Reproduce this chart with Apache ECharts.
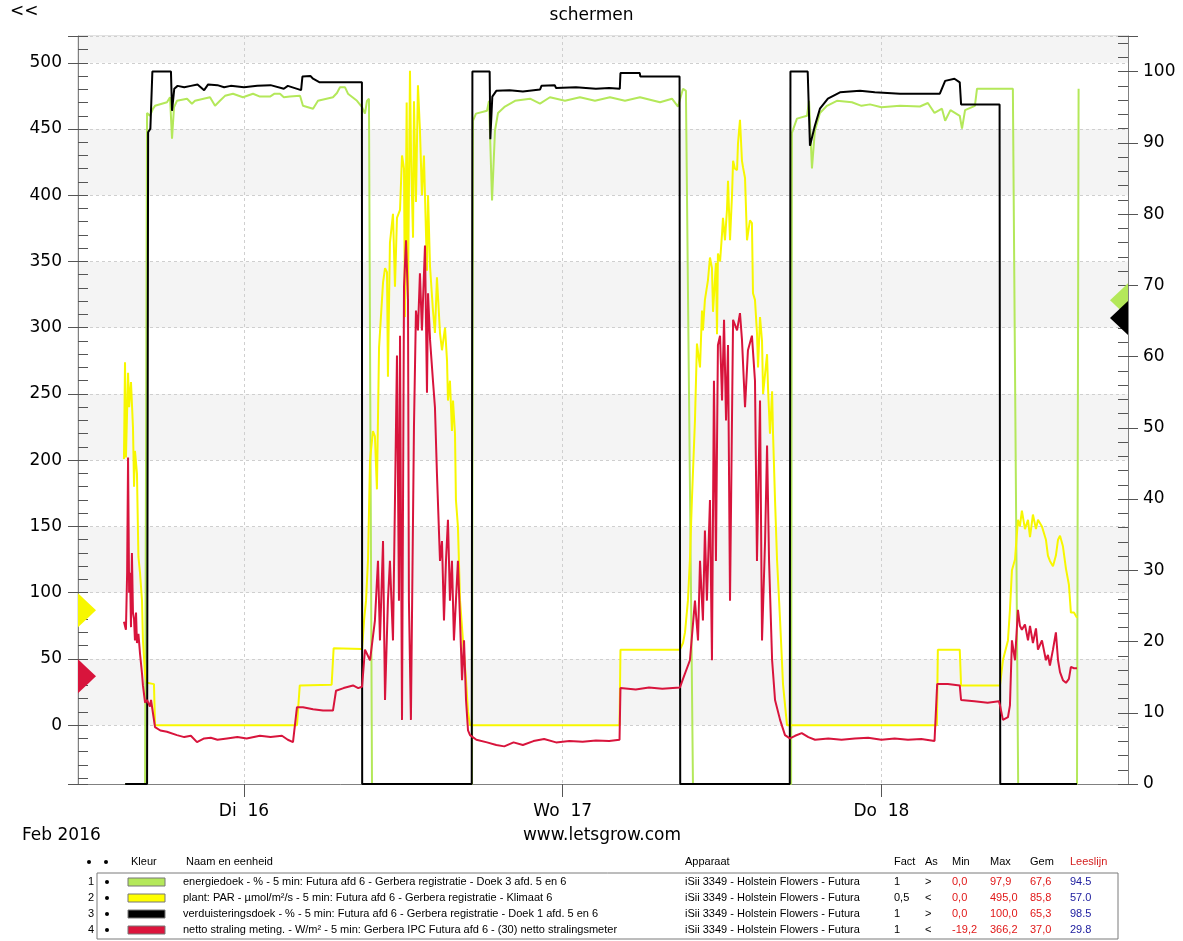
<!DOCTYPE html>
<html>
<head>
<meta charset="utf-8">
<title>schermen</title>
<script src="https://cdn.jsdelivr.net/npm/echarts@6/dist/echarts.min.js"></script>
<style>
  html, body { margin: 0; padding: 0; background: #fff; }
  #chart { width: 1183px; height: 941px; }
</style>
</head>
<body>
<div id="chart"></div>
<script>
// tijd in uren vanaf ma 15 feb 2016 00:00
var xMin = 11.5;
var xMax = 90.57;
var dayTicks = [24, 48, 72];
var dayLabels = ['Di  16', 'Wo  17', 'Do  18'];

var leftMin = -44.4, leftMax = 520.2;   // W/m2 - umol
var rightMax = 105;                     // %

// energiedoek - % (rechter as)
var energiedoek = [
  [15.05,0],[16.55,0],[16.70,94.2],[16.92,93.8],[17.15,94.8],[17.30,95.2],[18.20,95.7],[18.43,96.4],[18.58,90.6],
  [18.73,95.0],[18.95,95.9],[19.71,96.2],[20.08,95.5],[20.31,95.9],[21.44,96.4],[21.82,95.2],[22.19,95.9],[22.57,96.6],
  [23.17,96.9],[23.92,96.4],[24.68,96.9],[25.20,96.5],[25.96,96.5],[26.30,96.9],[26.71,96.9],[27.00,96.4],[27.46,96.5],
  [28.22,96.6],[28.44,95.2],[29.20,94.8],[29.57,95.9],[30.70,96.4],[31.00,97.0],[31.23,97.8],[31.61,97.8],[31.83,96.9],
  [32.51,95.9],[32.89,95.0],[33.11,94.1],[33.26,95.9],[33.41,96.2],[33.64,0],
  [41.17,0],[41.24,93.1],[41.47,94.1],[42.30,94.5],[42.45,95.9],[42.68,81.9],[42.90,91.7],[43.13,94.2],[43.65,95.1],
  [44.41,95.9],[45.54,96.2],[46.29,95.5],[47.04,96.4],[48.17,95.9],[49.30,96.4],[50.43,95.9],[51.56,96.4],[52.69,95.9],
  [53.82,96.4],[55.33,95.7],[56.23,96.2],[56.68,95.1],[57.06,97.6],[57.28,97.3],[57.81,0],
  [65.20,0],[65.26,91.4],[65.64,93.4],[66.40,93.8],[66.55,95.9],[66.77,86.4],[66.99,91.7],[67.37,94.2],[67.90,95.2],
  [68.65,95.9],[69.78,95.7],[70.50,95.2],[71.14,95.4],[72.00,95.0],[73.40,95.2],[74.90,95.1],[75.50,95.6],[76.00,94.2],
  [76.56,94.8],[76.80,93.1],[77.20,94.6],[77.90,93.8],[78.07,92.0],[78.30,94.6],[79.04,95.2],[79.20,97.6],[81.90,97.6],
  [82.30,0],[86.73,0],[86.85,97.6]
];

// plant: PAR - umol/m2/s (linker as)
var par = [
  [14.96,201],[15.04,274],[15.11,202],[15.27,266],[15.35,240],[15.49,259],[15.64,225],[15.72,180],[15.79,207],[15.94,190],
  [16.05,127],[16.17,115],[16.32,94],[16.39,64],[16.55,39],[16.70,32],[17.22,31],[17.30,0],[27.99,0],[28.20,30],
  [30.60,30.5],[30.75,58],[32.89,57.5],
  [33.05,80],[33.19,94],[33.34,125],[33.49,200],[33.71,222],[33.86,218],[34.01,178],[34.17,285],[34.47,334],[34.62,345],
  [34.77,342],[34.84,263],[34.99,364],[35.22,386],[35.37,331],[35.52,383],[35.75,389],[35.90,430],[36.05,420],[36.12,308],
  [36.25,470],[36.35,323],[36.50,494],[36.58,430],[36.65,400],[36.73,368],[36.80,471],[36.95,395],[37.10,483],[37.25,449],
  [37.40,400],[37.55,430],[37.78,343],[37.86,400],[38.01,346],[38.23,313],[38.38,296],[38.53,338],[38.76,296],[38.91,283],
  [39.14,300],[39.29,275],[39.36,245],[39.51,260],[39.66,222],[39.74,245],[39.89,220],[39.96,170],[40.11,150],[40.27,94],
  [40.49,64],[40.72,34],[40.87,10],[41.02,0],
  [52.28,0],[52.35,57],[56.83,57],
  [57.06,62],[57.21,70],[57.43,94],[57.58,125],[57.73,170],[57.96,230],[58.11,288],[58.34,270],[58.49,313],[58.56,298],
  [58.71,321],[58.94,336],[59.09,353],[59.24,345],[59.32,312],[59.54,349],[59.62,295],[59.69,356],[59.85,350],[60.00,371],
  [60.07,383],[60.22,366],[60.37,389],[60.45,411],[60.60,366],[60.75,400],[60.83,426],[60.97,420],[61.13,419],[61.20,439],
  [61.35,457],[61.50,426],[61.58,421],[61.73,413],[61.88,366],[61.95,371],[62.10,381],[62.25,379],[62.33,326],[62.48,321],
  [62.63,296],[62.71,270],[62.86,308],[63.01,290],[63.09,250],[63.39,280],[63.46,255],[63.61,220],[63.77,252],[63.84,220],
  [63.99,170],[64.14,125],[64.37,79],[64.59,31],[64.89,0],
  [76.18,0],[76.25,57],[77.90,57],[78.00,30],[80.93,30],
  [81.15,49],[81.53,64],[81.68,87],[81.83,117],[82.06,125],[82.28,155],[82.43,150],[82.58,162],[82.81,148],[83.04,155],
  [83.19,142],[83.41,159],[83.64,148],[83.79,155],[84.09,150],[84.39,140],[84.54,128],[84.69,124],[84.92,120],[85.14,128],
  [85.30,140],[85.45,143],[85.67,135],[85.90,118],[86.12,106],[86.27,85],[86.50,85],[86.73,81]
];

// verduisteringsdoek - % (rechter as)
var verduistering = [
  [15.05,0],[16.70,0],[16.78,91.5],[16.95,92.0],[17.10,100],[18.50,100],[18.58,94.5],[18.75,97.6],[19.00,98.0],[19.50,97.8],
  [20.00,98.0],[20.50,98.2],[21.00,97.4],[21.30,98.2],[22.00,98.1],[22.50,97.8],[23.00,98.0],[24.00,97.8],[25.00,98.0],
  [26.00,98.1],[27.00,97.6],[27.30,98.0],[28.30,97.4],[28.40,99.3],[29.00,99.4],[29.20,99.0],[29.70,98.5],[32.88,98.5],[32.90,0],
  [41.15,0],[41.20,100],[42.50,100],[42.55,90.5],[42.70,96.5],[43.00,97.3],[44.00,97.4],[45.00,97.2],[46.30,97.5],[46.40,98.0],
  [47.40,98.1],[47.50,97.7],[49.00,97.8],[50.50,97.6],[51.50,97.7],[52.30,97.6],[52.35,99.8],[53.80,99.8],[53.85,99.3],
  [56.80,99.3],[56.85,0],
  [65.10,0],[65.15,100],[66.45,100],[66.62,89.6],[66.99,92.4],[67.37,94.8],[67.97,96.2],[68.88,97.1],[70.39,97.3],[71.50,97.1],
  [73.40,96.9],[76.40,96.9],[76.80,98.7],[77.50,99.0],[77.90,98.5],[78.00,95.4],[80.90,95.4],[80.95,0],[86.73,0]
];

// netto straling meting - W/m2 (linker as)
var netto = [
  [14.96,78],[15.11,72],[15.20,115],[15.27,202],[15.35,100],[15.42,115],[15.49,74],[15.56,130],[15.64,85],[15.72,80],
  [15.79,64],[15.87,85],[15.94,62],[16.05,69],[16.17,54],[16.32,39],[16.39,30],[16.55,17],[16.70,19],[16.92,14],[17.00,19],
  [17.30,-1.5],[17.70,-4],[18.20,-5],[18.95,-7.5],[19.50,-9],[20.00,-8],[20.46,-12.8],[21.00,-10],[21.50,-9.5],[22.00,-11],
  [22.72,-10],[23.50,-9],[24.20,-10],[25.20,-8],[26.00,-9],[26.86,-8],[27.30,-11],[27.69,-12.8],[27.99,13.6],[28.44,13.6],
  [29.20,12],[29.95,11],[30.70,11],[30.93,26],[31.50,28],[32.21,30],[32.60,28],[32.89,29],
  [33.11,57],[33.49,49],[33.86,79],[34.09,124],[34.24,64],[34.47,139],[34.62,19],[34.84,94],[34.99,124],[35.22,64],
  [35.37,170],[35.52,279],[35.67,94],[35.75,294],[35.90,4],[36.05,331],[36.20,366],[36.35,321],[36.42,94],[36.57,4],
  [36.80,225],[36.95,313],[37.10,298],[37.25,341],[37.40,298],[37.63,362],[37.78,251],[37.86,326],[38.01,291],[38.23,260],
  [38.38,240],[38.53,190],[38.76,124],[38.91,139],[39.06,79],[39.21,124],[39.36,155],[39.51,94],[39.66,124],[39.81,64],
  [39.96,94],[40.11,124],[40.27,79],[40.42,34],[40.57,64],[40.72,19],[40.87,-4],[41.02,-7.5],
  [41.50,-11],[42.30,-13],[43.00,-15],[43.60,-16],[44.30,-13],[45.00,-15],[45.80,-12],[46.60,-10.5],[47.50,-13],[48.50,-12],
  [49.50,-12.5],[50.50,-11.5],[51.50,-12],[52.28,-11],[52.35,28],[53.50,27],[54.50,28.5],[55.50,27.5],[56.83,28.5],
  [57.06,35],[57.58,49],[57.96,94],[58.19,64],[58.34,124],[58.56,79],[58.71,147],[58.86,94],[59.09,170],[59.24,49],
  [59.39,260],[59.54,124],[59.69,287],[59.85,294],[60.00,245],[60.15,306],[60.30,230],[60.45,287],[60.60,94],[60.83,306],
  [61.13,298],[61.35,311],[61.50,291],[61.73,240],[61.95,283],[62.25,294],[62.48,260],[62.63,124],[62.86,245],[63.01,64],
  [63.24,139],[63.39,211],[63.54,124],[63.77,49],[63.99,19],[64.37,4],[64.74,-7.5],[65.11,-10],
  [65.50,-8],[66.00,-6],[66.50,-9],[67.00,-11],[68.00,-10],[69.00,-11],[70.00,-10],[71.00,-9.5],[72.00,-11],[73.00,-10],
  [74.00,-11],[75.00,-10.5],[76.00,-12],[76.20,31],[77.00,31],[77.90,30],[78.00,19],[79.00,18],[80.00,17],[80.85,18],
  [80.93,15],[81.15,4],[81.53,6],[81.68,15],[81.83,64],[82.06,49],[82.28,87],[82.43,75],[82.58,72],[82.81,76],[83.04,64],
  [83.19,75],[83.41,62],[83.64,73],[83.79,57],[84.09,64],[84.39,49],[84.54,53],[84.69,45],[84.92,57],[85.14,70],[85.30,49],
  [85.45,40],[85.67,34],[85.90,32],[86.12,35],[86.27,44],[86.50,43],[86.73,43]
];

// leeslijn-markeringen op de assen
var markerPar = 86.8, markerNetto = 37;
var markerEnergie = 67.9, markerVerduister = 65.4;

// tabel onder de grafiek
var rowNames = [
  'energiedoek - % - 5 min: Futura afd 6 - Gerbera registratie - Doek 3 afd. 5 en 6',
  'plant: PAR - \u00b5mol/m\u00b2/s - 5 min: Futura afd 6 - Gerbera registratie - Klimaat 6',
  'verduisteringsdoek - % - 5 min: Futura afd 6 - Gerbera registratie - Doek 1 afd. 5 en 6',
  'netto straling meting. - W/m\u00b2 - 5 min: Gerbera IPC Futura afd 6 - (30) netto stralingsmeter'
];
var rowColors = ['#b4e85a', '#ffff00', '#000000', '#dc143c'];
var rowApparaat = 'iSii 3349 - Holstein Flowers - Futura';
var rowFact = ['1', '0,5', '1', '1'];
var rowAs = ['>', '<', '>', '<'];
var rowMin = ['0,0', '0,0', '0,0', '-19,2'];
var rowMax = ['97,9', '495,0', '100,0', '366,2'];
var rowGem = ['67,6', '85,8', '65,3', '37,0'];
var rowLees = ['94.5', '57.0', '98.5', '29.8'];

var chart = echarts.init(document.getElementById('chart'));

var bigFont = '"DejaVu Sans", sans-serif';
var smallFont = '11px "Liberation Sans", Arial, sans-serif';
var gridLine = { show: true, lineStyle: { color: '#cfcfcf', type: [3, 3], width: 1 } };

// tabel als graphic tekst
var table = [];
function txt(x, y, s, color, align, font) {
  table.push({ type: 'text', x: x, y: y, silent: true,
    style: { text: s, font: font || smallFont, fill: color || '#000', align: align || 'left', verticalAlign: 'middle' } });
}
function dot(x, y) {
  table.push({ type: 'circle', shape: { cx: x, cy: y, r: 2 }, silent: true, style: { fill: '#000' } });
}
var headY = 862;
dot(89, headY); dot(106, headY);
txt(131, headY, 'Kleur'); txt(186, headY, 'Naam en eenheid'); txt(685, headY, 'Apparaat');
txt(894, headY, 'Fact'); txt(925, headY, 'As'); txt(952, headY, 'Min'); txt(990, headY, 'Max');
txt(1030, headY, 'Gem'); txt(1070, headY, 'Leeslijn', '#d42020');
table.push({ type: 'rect', shape: { x: 97, y: 873, width: 1021, height: 66 }, silent: true,
  style: { fill: 'none', stroke: '#7a7a7a', lineWidth: 1 } });
for (var i = 0; i < rowNames.length; i++) {
  var ry = 882 + i * 16;
  txt(94, ry, String(i + 1), '#000', 'right');
  dot(107, ry);
  table.push({ type: 'rect', shape: { x: 128, y: ry - 4, width: 37, height: 8 }, silent: true,
    style: { fill: rowColors[i], stroke: '#777', lineWidth: 1 } });
  txt(183, ry, rowNames[i]);
  txt(685, ry, rowApparaat);
  txt(894, ry, rowFact[i]);
  txt(925, ry, rowAs[i]);
  txt(952, ry, rowMin[i], '#e01818');
  txt(990, ry, rowMax[i], '#e01818');
  txt(1030, ry, rowGem[i], '#e01818');
  txt(1070, ry, rowLees[i], '#2020a0');
}
txt(10, 12, '<<', '#000', 'left', '17px ' + bigFont);
txt(22, 836, 'Feb 2016', '#000', 'left', '17px ' + bigFont);
txt(602, 836, 'www.letsgrow.com', '#000', 'center', '17px ' + bigFont);

function lineSeries(name, data, color, axis, marker, side) {
  var s = {
    name: name, type: 'line', data: data, yAxisIndex: axis,
    showSymbol: false, symbol: 'none', smooth: false,
    lineStyle: { color: color, width: 2 }, itemStyle: { color: color },
    animation: false
  };
  if (marker != null) {
    s.markPoint = {
      silent: true, animation: false,
      symbol: side === 'left' ? 'path://M0,0L1,1L0,2Z' : 'path://M1,0L0,1L1,2Z',
      symbolSize: [18, 34],
      symbolOffset: [side === 'left' ? 9 : -9, 0],
      itemStyle: { color: color },
      label: { show: false },
      data: [{ coord: [side === 'left' ? xMin : xMax, marker] }]
    };
  }
  return s;
}

var option = {
  animation: false,
  backgroundColor: '#ffffff',
  title: {
    text: 'schermen', left: 'center', top: 2,
    textStyle: { fontFamily: bigFont, fontSize: 17, fontWeight: 'normal', color: '#000' }
  },
  grid: { left: 78, right: 55, top: 36, bottom: 157, show: true, borderColor: '#c4c4c4', borderWidth: 1 },
  xAxis: {
    type: 'value', min: xMin, max: xMax,
    axisLine: { show: true, onZero: false, lineStyle: { color: '#808080' } },
    axisTick: { show: true, customValues: dayTicks, length: 13, lineStyle: { color: '#555' } },
    axisLabel: {
      customValues: dayTicks, margin: 19, fontFamily: bigFont, fontSize: 17, color: '#000',
      formatter: function (v) { var k = dayTicks.indexOf(v); return k >= 0 ? dayLabels[k] : ''; }
    },
    splitLine: gridLine
  },
  yAxis: [
    {
      type: 'value', position: 'left', min: leftMin, max: leftMax, splitNumber: 11,
      axisLine: { show: true, lineStyle: { color: '#808080' } },
      axisTick: { show: true, length: 10, lineStyle: { color: '#555' } },
      axisLabel: {
        margin: 16, fontFamily: bigFont, fontSize: 17, color: '#000',
        formatter: function (v) { return (Math.abs(v % 50) < 1e-6) ? String(v) : ''; }
      },
      splitLine: gridLine,
      splitArea: { show: true, areaStyle: { color: ['#ffffff', '#f4f4f4'] } }
    },
    {
      type: 'value', position: 'right', min: 0, max: rightMax, interval: 10,
      axisLine: { show: true, lineStyle: { color: '#808080' } },
      axisTick: { show: true, length: 10, lineStyle: { color: '#555' } },
      axisLabel: {
        margin: 15, fontFamily: bigFont, fontSize: 17, color: '#000',
        formatter: function (v) { return v <= 100 ? String(v) : ''; }
      },
      splitLine: { show: false }
    },
    {
      // kleine streepjes binnen, linker as
      type: 'value', position: 'left', min: leftMin, max: leftMax, splitNumber: 56,
      axisLine: { show: false }, axisLabel: { show: false }, splitLine: { show: false },
      axisTick: { show: true, inside: true, length: 10, lineStyle: { color: '#555' } }
    },
    {
      // kleine streepjes binnen, rechter as
      type: 'value', position: 'right', min: 0, max: rightMax, interval: 2,
      axisLine: { show: false }, axisLabel: { show: false }, splitLine: { show: false },
      axisTick: { show: true, inside: true, length: 10, lineStyle: { color: '#555' } }
    }
  ],
  graphic: table,
  series: [
    lineSeries('energiedoek', energiedoek, '#b4e85a', 1, markerEnergie, 'right'),
    lineSeries('plant: PAR', par, '#f7f700', 0, markerPar, 'left'),
    lineSeries('verduisteringsdoek', verduistering, '#000000', 1, markerVerduister, 'right'),
    lineSeries('netto straling meting.', netto, '#d8143c', 0, markerNetto, 'left')
  ]
};

chart.setOption(option);
</script>
</body>
</html>
